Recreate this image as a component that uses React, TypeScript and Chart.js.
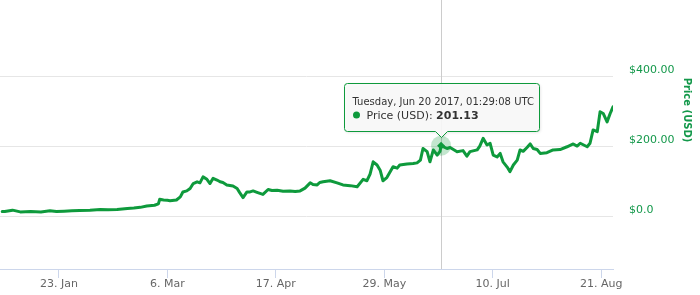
import React, { useEffect, useRef } from "react";
import { Chart, registerables } from "chart.js";

Chart.register(...registerables);

// Day offsets since 1 Jan 2017 (UTC)
const days = [
  0, 1, 4, 7, 11, 15, 18.5, 21, 24, 27, 30, 34, 38, 41, 44.5, 48.5, 51, 53.5, 56, 59, 60.5, 61, 62.5, 64, 65, 67.5,
  69, 70, 71.5, 72.8, 74, 75.5, 76.6, 77.8, 79.3, 80.5, 81.7, 83.2, 84.4, 85.5, 87, 89.4, 91, 92, 93.3, 94.8, 96,
  97.2, 98.7, 101, 103, 104.5, 106.5, 108.8, 111.5, 113.5, 115.4, 117.3, 119.3, 120.4, 122, 123, 124.3, 127, 129.7,
  132, 134.8, 137.5, 139.8, 141.3, 142.5, 143.7, 145.2, 146.4, 147.5, 149, 151.4, 153, 154, 156.8, 159.2, 160.7,
  162, 163, 164.6, 165.7, 167, 168.5, 169.6, 170, 172.3, 173.5, 176.2, 178.5, 180, 181.2, 184, 185, 186.3, 187.8,
  189, 190.2, 191.7, 192.9, 194, 195.6, 196.7, 198, 199.5, 200.6, 201.8, 203.3, 204.5, 205.7, 207.2, 208.4, 211,
  213.4, 216.1, 218.8, 221.2, 222.7, 223.9, 226.6, 227.7, 228.9, 230.5, 231.6, 232.8, 234.3, 235.5, 236.6,
];

// Price in USD
const prices = [
  13, 13, 17, 12, 13, 12, 15, 13, 14, 15, 16, 17, 19, 18, 19, 22, 23, 25, 29, 31, 35, 48, 46, 45, 44, 46,
  55, 69, 72, 79, 93, 98, 95, 112, 105, 93, 108, 103, 98, 96, 89, 86, 79, 67, 53, 69, 69,
  72, 68, 62, 76, 73, 74, 71, 72, 70, 72, 80, 95, 90, 89, 96, 98, 101, 95,
  89, 87, 84, 105, 101, 120, 155, 146, 131, 101, 110, 141, 137, 146, 149, 150, 152,
  160, 193, 184, 155, 189, 174, 185, 201.13, 193, 196, 184, 187, 171, 184, 189, 200, 222, 203,
  208, 174, 169, 179, 155, 140, 127, 146, 160, 189, 185, 196, 206, 193, 190, 179, 181,
  189, 190, 198, 206, 200, 208, 198, 208, 246, 241, 298, 293, 269, 293, 312,
];

const xTickDays = [22, 64, 106, 148, 190, 232];
const xTickLabels = ["23. Jan", "6. Mar", "17. Apr", "29. May", "10. Jul", "21. Aug"];
const yTicks = [0, 200, 400];
const yTickLabels = ["$0.0", "$200.00", "$400.00"];

const seriesName = "Price (USD)";
const tooltipTitle = "Tuesday, Jun 20 2017, 01:29:08 UTC";
const tooltipIndex = days.indexOf(170);

const X_MIN = -0.85;
const X_MAX = 236.6;
const Y_MIN = -151;
const Y_MAX = 617;

const GREEN = "#0e9a3c";
const LABEL_GREEN = "#13984a";
const FONT = "'DejaVu Sans', Verdana, sans-serif";

const overlayPlugin = {
  id: "overlay",
  beforeDatasetsDraw(chart: any) {
    const meta = chart.getDatasetMeta(0);
    const pt = meta.data[tooltipIndex];
    if (!pt) return;
    const { ctx, chartArea } = chart;
    ctx.save();
    ctx.strokeStyle = "#cccccc";
    ctx.lineWidth = 1;
    const x = Math.round(pt.x) + 0.5;
    ctx.beginPath();
    ctx.moveTo(x, chartArea.top);
    ctx.lineTo(x, chartArea.bottom);
    ctx.stroke();
    ctx.restore();
  },
  afterDraw(chart: any) {
    const meta = chart.getDatasetMeta(0);
    const pt = meta.data[tooltipIndex];
    const { ctx } = chart;
    ctx.save();
    // axis title
    ctx.save();
    ctx.translate(687, 110);
    ctx.rotate(Math.PI / 2);
    ctx.font = `bold 10px ${FONT}`;
    ctx.fillStyle = LABEL_GREEN;
    ctx.textAlign = "center";
    ctx.textBaseline = "middle";
    ctx.fillText(seriesName, 0, 0);
    ctx.restore();
    if (!pt) {
      ctx.restore();
      return;
    }
    const px = pt.x;
    const py = pt.y;
    // halo
    ctx.fillStyle = "rgba(14,154,60,0.25)";
    ctx.beginPath();
    ctx.arc(px, py, 10, 0, Math.PI * 2);
    ctx.fill();
    // diamond marker
    ctx.fillStyle = GREEN;
    ctx.beginPath();
    ctx.moveTo(px, py - 4);
    ctx.lineTo(px + 4, py);
    ctx.lineTo(px, py + 4);
    ctx.lineTo(px - 4, py);
    ctx.closePath();
    ctx.fill();

    // tooltip
    const name = `${seriesName}: `;
    const valueText = prices[tooltipIndex].toFixed(2);
    ctx.font = `10px ${FONT}`;
    const tw = ctx.measureText(tooltipTitle).width;
    ctx.font = `11px ${FONT}`;
    const nw = ctx.measureText(name).width;
    ctx.font = `bold 11px ${FONT}`;
    const vw = ctx.measureText(valueText).width;
    const bodyW = 14 + nw + vw;
    const w = Math.round(Math.max(tw, bodyW) + 14);
    const h = 48;
    const left = Math.round(px - w / 2) + 0.5;
    const bottom = Math.round(py - 15) + 0.5;
    const top = bottom - h;
    const right = left + w;
    const r = 3;
    const cx = Math.round(px) + 0.5;
    ctx.save();
    ctx.shadowColor = "rgba(0,0,0,0.12)";
    ctx.shadowBlur = 3;
    ctx.shadowOffsetX = 1;
    ctx.shadowOffsetY = 1;
    ctx.beginPath();
    ctx.moveTo(left + r, top);
    ctx.lineTo(right - r, top);
    ctx.arcTo(right, top, right, top + r, r);
    ctx.lineTo(right, bottom - r);
    ctx.arcTo(right, bottom, right - r, bottom, r);
    ctx.lineTo(cx + 6, bottom);
    ctx.lineTo(cx, bottom + 6);
    ctx.lineTo(cx - 6, bottom);
    ctx.lineTo(left + r, bottom);
    ctx.arcTo(left, bottom, left, bottom - r, r);
    ctx.lineTo(left, top + r);
    ctx.arcTo(left, top, left + r, top, r);
    ctx.closePath();
    ctx.fillStyle = "rgba(250,250,250,0.92)";
    ctx.fill();
    ctx.restore();
    ctx.strokeStyle = GREEN;
    ctx.lineWidth = 1;
    ctx.stroke();

    const tx = left + 8;
    ctx.textAlign = "left";
    ctx.textBaseline = "alphabetic";
    ctx.fillStyle = "#333333";
    ctx.font = `10px ${FONT}`;
    ctx.fillText(tooltipTitle, tx, top + 21);
    // dot
    ctx.fillStyle = GREEN;
    ctx.beginPath();
    ctx.arc(tx + 4, top + 31.5, 3.5, 0, Math.PI * 2);
    ctx.fill();
    ctx.fillStyle = "#333333";
    ctx.font = `11px ${FONT}`;
    ctx.fillText(name, tx + 14, top + 35);
    ctx.font = `bold 11px ${FONT}`;
    ctx.fillText(valueText, tx + 14 + nw, top + 35);
    ctx.restore();
  },
};

export default function App() {
  const ref = useRef<HTMLCanvasElement | null>(null);
  useEffect(() => {
    if (!ref.current) return;
    Chart.defaults.font.family = FONT;
    const chart = new Chart(ref.current, {
      type: "line",
      data: {
        datasets: [
          {
            label: seriesName,
            data: days.map((d, i) => ({ x: d, y: prices[i] })),
            borderColor: GREEN,
            borderWidth: 3,
            pointRadius: 0,
            tension: 0,
            fill: false,
            borderJoinStyle: "round",
            borderCapStyle: "round",
          },
        ],
      },
      options: {
        animation: false,
        responsive: false,
        maintainAspectRatio: false,
        events: [],
        layout: { padding: 0 },
        plugins: { legend: { display: false }, tooltip: { enabled: false } },
        scales: {
          x: {
            type: "linear",
            position: "bottom",
            min: X_MIN,
            max: X_MAX,
            afterBuildTicks: (s: any) => {
              s.ticks = xTickDays.map((v) => ({ value: v }));
            },
            afterFit: (s: any) => {
              s.height = 26;
              s.paddingLeft = 0;
              s.paddingRight = 0;
            },
            ticks: {
              callback: (_v: any, i: number) => xTickLabels[i],
              color: "#666666",
              font: { size: 11, family: FONT },
              padding: 0,
              maxRotation: 0,
              autoSkip: false,
            },
            grid: { drawOnChartArea: false, drawTicks: true, tickLength: 9, color: "#ccd6eb" },
            border: { color: "#ccd6eb", width: 1 },
          },
          y: {
            position: "right",
            min: Y_MIN,
            max: Y_MAX,
            afterBuildTicks: (s: any) => {
              s.ticks = yTicks.map((v) => ({ value: v }));
            },
            afterFit: (s: any) => {
              s.width = 87;
              s.paddingTop = 0;
              s.paddingBottom = 0;
            },
            ticks: {
              callback: (_v: any, i: number) => yTickLabels[i],
              color: LABEL_GREEN,
              font: { size: 11, family: FONT },
              padding: 16,
              labelOffset: -6,
            },
            grid: { color: "#e6e6e6", drawTicks: false },
            border: { display: false },
          },
        },
      } as any,
      plugins: [overlayPlugin],
    });
    return () => chart.destroy();
  }, []);
  return (
    <div style={{ position: "absolute", left: 0, top: 0, width: 700, height: 295, background: "#fff" }}>
      <canvas ref={ref} width={700} height={295} style={{ width: 700, height: 295, display: "block" }} />
    </div>
  );
}
